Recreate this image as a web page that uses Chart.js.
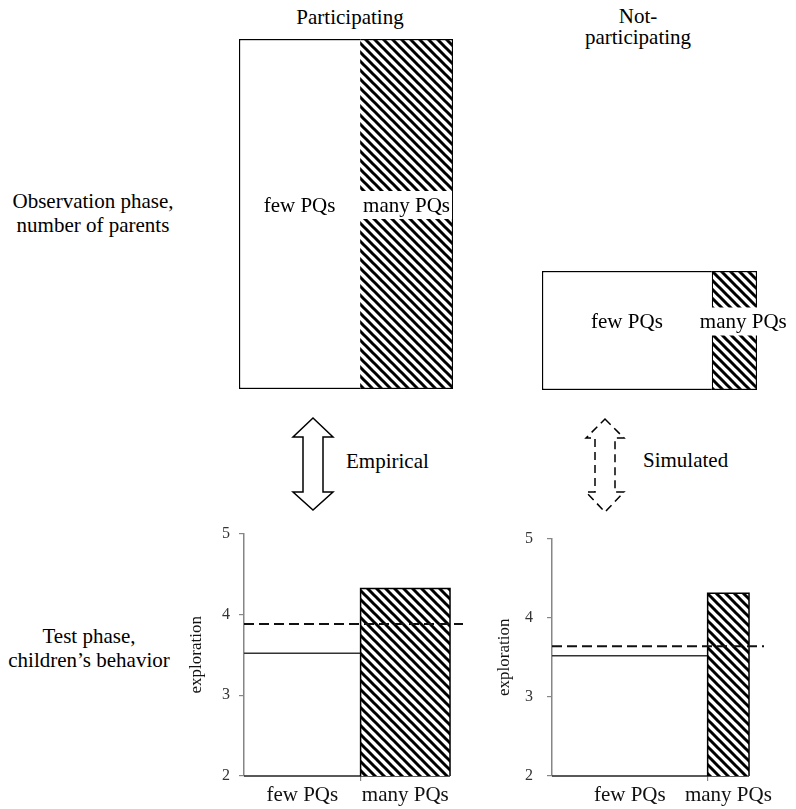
<!DOCTYPE html>
<html>
<head>
<meta charset="utf-8">
<script src="https://cdn.jsdelivr.net/npm/chart.js@4.4.1/dist/chart.umd.min.js"></script>
<style>
  html, body { margin: 0; padding: 0; background: #fff; }
  body { width: 796px; height: 809px; position: relative; overflow: hidden;
         font-family: "Liberation Serif", "Times New Roman", serif; color: #000; }
  .abs { position: absolute; }
  .txt { position: absolute; font-size: 21px; white-space: nowrap; }
  canvas { display: block; }
</style>
</head>
<body>
<script>
// ---------------- DATA ----------------
const groups = ['Participating', 'Not-participating'];
const categories = ['few PQs', 'many PQs'];
// share of parents asking few / many PQs (observation phase), %
const parentShareParticipating = [56.6, 43.4];
const parentShareNotParticipating = [79, 21];
// children's exploration (test phase)
const explorationParticipating = [3.52, 4.32];
const explorationNotParticipating = [3.52, 4.31];
const meanExploration = [3.88, 3.64];   // [empirical, simulated]
const yTicks = [2, 3, 4, 5];
const rowLabels = ['Observation phase,\nnumber of parents', 'Test phase,\nchildren\u2019s behavior'];
const arrowLabels = ['Empirical', 'Simulated'];
</script>

<div class="txt" style="left:250px;top:7px;width:200px;text-align:center;line-height:21px;">Participating</div>
<div class="txt" style="left:538px;top:6px;width:200px;text-align:center;line-height:20.5px;" id="npTitle"></div>
<div class="txt" style="left:0px;top:190px;width:186px;text-align:center;line-height:23.5px;" id="row1"></div>
<div class="txt" style="left:0px;top:625px;width:178px;text-align:center;line-height:23.5px;" id="row2"></div>
<div class="txt" style="left:346px;top:451px;line-height:21px;" id="arr1"></div>
<div class="txt" style="left:643px;top:450px;line-height:21px;" id="arr2"></div>

<svg class="abs" style="left:0;top:0;" width="796" height="809">
  <polygon points="313,418 333,437 323,437 323,492 333,492 313,510 293,492 303,492 303,437 293,437"
           fill="#fff" stroke="#000" stroke-width="1.5" stroke-linejoin="miter"/>
  <polygon points="605,419 624,438 615,438 615,492 624,492 605,512 586,492 595,492 595,438 586,438"
           fill="none" stroke="#000" stroke-width="1.5" stroke-dasharray="8,5" stroke-linejoin="miter"/>
</svg>

<div class="abs" style="left:230px;top:30px;"><canvas id="topL" width="240" height="370"></canvas></div>
<div class="abs" style="left:530px;top:260px;"><canvas id="topR" width="266" height="140"></canvas></div>
<div class="abs" style="left:150px;top:515px;"><canvas id="botL" width="330" height="294"></canvas></div>
<div class="abs" style="left:458px;top:515px;"><canvas id="botR" width="338" height="294"></canvas></div>

<script>
document.getElementById('npTitle').innerHTML = 'Not-<br>participating';
document.getElementById('row1').innerHTML = rowLabels[0].replace('\n', '<br>');
document.getElementById('row2').innerHTML = rowLabels[1].replace('\n', '<br>');
document.getElementById('arr1').textContent = arrowLabels[0];
document.getElementById('arr2').textContent = arrowLabels[1];

const FONT = '"Liberation Serif", "Times New Roman", serif';

function hatch() {
  const s = 9;
  const c = document.createElement('canvas');
  c.width = s; c.height = s;
  const x = c.getContext('2d');
  x.fillStyle = '#fff'; x.fillRect(0, 0, s, s);
  x.strokeStyle = '#000'; x.lineWidth = 3;
  x.beginPath();
  for (const k of [-1, 0, 1]) { x.moveTo(k * s - 3, -3); x.lineTo(k * s + s + 3, s + 3); }
  x.stroke();
  return x.createPattern(c, 'repeat');
}
const HATCH = hatch();

// labels inside the mosaic boxes
const boxLabels = {
  id: 'boxLabels',
  afterDatasetsDraw(chart) {
    const ctx = chart.ctx;
    ctx.save();
    ctx.font = '21px ' + FONT;
    ctx.textBaseline = 'middle';
    ctx.textAlign = 'center';
    chart.data.datasets.forEach((ds, i) => {
      const el = chart.getDatasetMeta(i).data[0];
      const start = Math.min(el.x, el.base), end = Math.max(el.x, el.base);
      const w = ctx.measureText(ds.label).width;
      let cx = (start + end) / 2;
      if (i === 1) cx = Math.max(cx, start + w / 2 - 12);
      const cy = el.y - 8;
      if (i === 1) {
        ctx.fillStyle = '#fff';
        ctx.fillRect(cx - w / 2 - 4, cy - 15, w + 6, 28);
      }
      ctx.fillStyle = '#000';
      ctx.fillText(ds.label, cx, cy);
    });
    ctx.restore();
  }
};

function mosaic(id, group, shares, pad, skipInner) {
  return new Chart(document.getElementById(id), {
    type: 'bar',
    data: {
      labels: [group],
      datasets: [
        { label: categories[0], data: [shares[0]], backgroundColor: '#fff', borderColor: '#000',
          borderWidth: 1.5, borderSkipped: 'right' },
        { label: categories[1], data: [shares[1]], backgroundColor: HATCH, borderColor: '#000',
          borderWidth: 1.5, borderSkipped: skipInner ? 'left' : false }
      ]
    },
    options: {
      indexAxis: 'y', responsive: false, animation: false, devicePixelRatio: 1,
      layout: { padding: pad },
      datasets: { bar: { categoryPercentage: 1, barPercentage: 1 } },
      scales: {
        x: { stacked: true, min: 0, max: shares[0] + shares[1], display: false },
        y: { stacked: true, display: false }
      },
      plugins: { legend: { display: false }, tooltip: { enabled: false } }
    },
    plugins: [boxLabels]
  });
}

mosaic('topL', groups[0], parentShareParticipating, { left: 9, top: 9, right: 17, bottom: 11 }, true);
mosaic('topR', groups[1], parentShareNotParticipating, { left: 12, top: 11, right: 39, bottom: 10 }, false);

function exploration(id, shares, vals, mean, xMax, padRight, tickPad) {
  const few = shares[0], total = shares[0] + shares[1];
  const centers = [few / 2, few + shares[1] / 2];
  const line = { pointRadius: 0, clip: false, tension: 0, borderJoinStyle: 'miter' };
  return new Chart(document.getElementById(id), {
    type: 'line',
    data: {
      datasets: [
        Object.assign({ label: 'mean', data: [{ x: 0, y: mean }, { x: xMax, y: mean }],
          borderColor: '#111', borderWidth: 2, borderDash: [10, 5], fill: false }, line),
        Object.assign({ label: categories[1], data: [{ x: few, y: 2 }, { x: few, y: vals[1] }, { x: total, y: vals[1] }, { x: total, y: 2 }],
          borderColor: '#000', borderWidth: 1.5, fill: { value: 2 }, backgroundColor: HATCH }, line),
        Object.assign({ label: categories[0], data: [{ x: 0, y: vals[0] }, { x: few, y: vals[0] }],
          borderColor: '#333', borderWidth: 1.5, fill: false }, line),
        Object.assign({ label: 'base', data: [{ x: 0, y: 2 }, { x: total, y: 2 }],
          borderColor: '#222', borderWidth: 1.5, fill: false }, line)
      ]
    },
    options: {
      responsive: false, animation: false, devicePixelRatio: 1,
      layout: { padding: { left: 0, top: 15, right: padRight, bottom: 0 } },
      scales: {
        x: {
          type: 'linear', min: 0, max: xMax,
          afterBuildTicks: (s) => { s.ticks = [{ value: centers[0] }, { value: few }, { value: centers[1] }]; },
          afterFit: (s) => { s.height = 33; },
          border: { display: false },
          grid: { drawOnChartArea: false, drawTicks: true, tickLength: 5, lineWidth: 1.2,
                  tickColor: (c) => (c.tick && c.tick.value === few) ? '#868686' : 'rgba(0,0,0,0)' },
          ticks: { autoSkip: false, maxRotation: 0, padding: 2, color: '#111',
                   font: { family: FONT, size: 21 },
                   callback: (v) => v === centers[0] ? categories[0] : (v === centers[1] ? categories[1] : '') }
        },
        y: {
          type: 'linear', min: yTicks[0], max: yTicks[yTicks.length - 1],
          afterBuildTicks: (s) => { s.ticks = yTicks.map(v => ({ value: v })); },
          afterFit: (s) => { s.width = 94; },
          border: { display: true, color: '#868686', width: 1.5 },
          grid: { drawOnChartArea: false, drawTicks: true, tickLength: 5, color: '#868686', lineWidth: 1.2 },
          ticks: { padding: tickPad, color: '#333', font: { family: FONT, size: 16 } },
          title: { display: true, text: 'exploration', color: '#111', font: { family: FONT, size: 17 },
                   padding: { top: 36, bottom: 0 } }
        }
      },
      plugins: { legend: { display: false }, tooltip: { enabled: false } }
    }
  });
}

exploration('botL', parentShareParticipating, explorationParticipating, meanExploration[0], 106.3, 17, 9);
exploration('botR', parentShareNotParticipating, explorationNotParticipating, meanExploration[1], 107.6, 32, 14);
</script>
</body>
</html>
